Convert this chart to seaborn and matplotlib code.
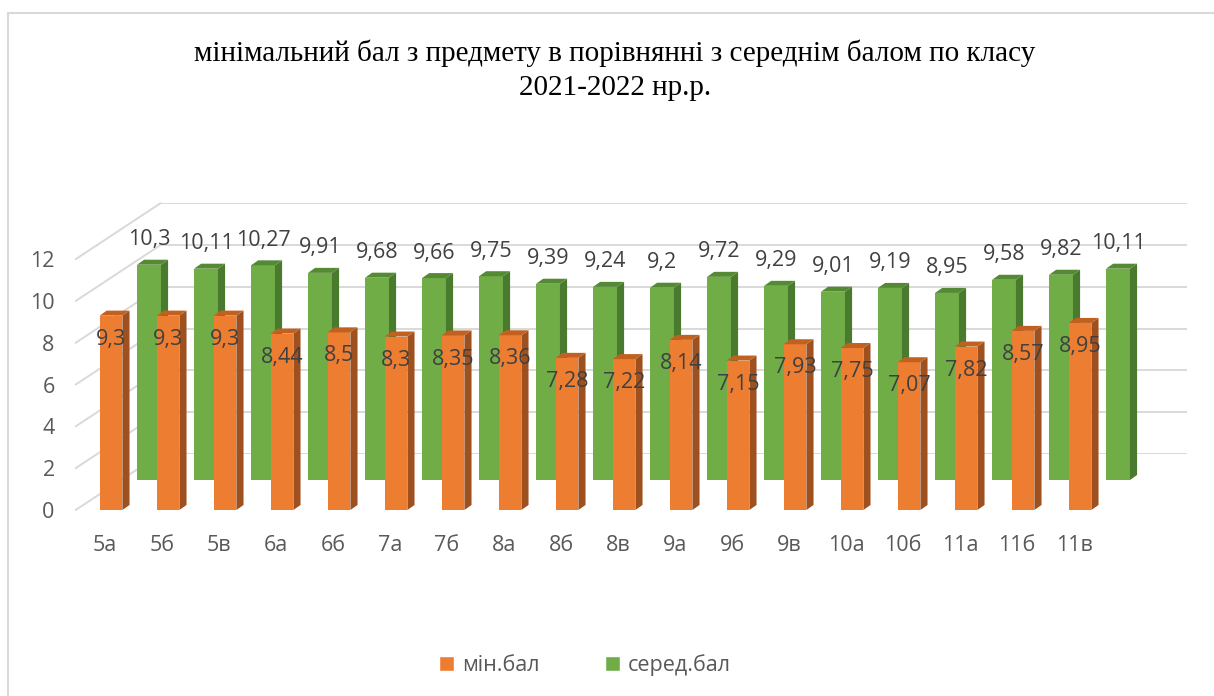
import matplotlib
matplotlib.use('Agg')
import matplotlib.pyplot as plt
from matplotlib.patches import Polygon, Patch, Rectangle, ConnectionPatch
from matplotlib.transforms import ScaledTranslation
import seaborn as sns

# data
classes = ['5а', '5б', '5в', '6а', '6б', '7а', '7б', '8а', '8б', '8в',
           '9а', '9б', '9в', '10а', '10б', '11а', '11б', '11в']
min_scores = [9.3, 9.3, 9.3, 8.44, 8.5, 8.3, 8.35, 8.36, 7.28, 7.22,
              8.14, 7.15, 7.93, 7.75, 7.07, 7.82, 8.57, 8.95]
avg_scores = [10.3, 10.11, 10.27, 9.91, 9.68, 9.66, 9.75, 9.39, 9.24, 9.2,
              9.72, 9.29, 9.01, 9.19, 8.95, 9.58, 9.82, 10.11]
series_names = ['мін.бал', 'серед.бал']
y_ticks = [0, 2, 4, 6, 8, 10, 12]

ORANGE, ORANGE_SIDE, ORANGE_TOP = '#ED7D31', '#9E501E', '#C2611F'
GREEN, GREEN_SIDE, GREEN_TOP = '#70AD47', '#4A7A2E', '#558A35'
GRID = '#d9d9d9'
TXT = '#595959'
LBL = '#404040'
FS = 15.5

sns.set_theme(style='white')
plt.rcParams['font.family'] = ['Open Sans', 'DejaVu Sans']

W, H = 1214, 696
fig = plt.figure(figsize=(W / 100, H / 100), dpi=100)
fig.patch.set_facecolor('white')

# geometry of the fake 3d box (pixels)
left, base, width, height = 82.5, 510, 1026, 12 * 20.9


def make_axes(dx, dy):
    ax = fig.add_axes([(left + dx) / W, (H - base + dy) / H, width / W, height / H])
    ax.patch.set_visible(False)
    for s in ax.spines.values():
        s.set_visible(False)
    return ax


ax_back = make_axes(78, 56)
ax_avg = make_axes(38, 30)
ax_min = make_axes(0, 0)

# back wall with gridlines
ax_back.set_xlim(-0.5, len(classes) - 0.5)
ax_back.set_ylim(0, 12)
ax_back.set_yticks(y_ticks)
ax_back.set_xticks([])
ax_back.tick_params(left=False, labelleft=False)
ax_back.grid(axis='y', color=GRID, lw=1.4)
ax_back.grid(axis='x', visible=False)


def add_depth(ax, side_col, top_col, dx=0.125, dy=0.24):
    for p in list(ax.patches):
        x0, w, h = p.get_x(), p.get_width(), p.get_height()
        ax.add_patch(Polygon([(x0 + w, 0), (x0 + w + dx, dy), (x0 + w + dx, h + dy), (x0 + w, h)],
                             closed=True, fc=side_col, ec='none', clip_on=False))
        ax.add_patch(Polygon([(x0, h), (x0 + dx, h + dy), (x0 + w + dx, h + dy), (x0 + w, h)],
                             closed=True, fc=top_col, ec='none', clip_on=False))


def fmt(v):
    return f'{v:g}'.replace('.', ',')


# middle row: average score
sns.barplot(x=classes, y=avg_scores, color=GREEN, saturation=1, width=0.42,
            linewidth=0, ax=ax_avg)
add_depth(ax_avg, GREEN_SIDE, GREEN_TOP)
ax_avg.set_xlim(-0.5, len(classes) - 0.5)
ax_avg.set_ylim(0, 12)
ax_avg.set_xticks([])
ax_avg.set_yticks([])
ax_avg.set_xlabel('')
for i, v in enumerate(avg_scores):
    ax_avg.annotate(fmt(v), (i, v), xytext=(0, 18), textcoords='offset points',
                    ha='center', va='center', fontsize=FS, color=LBL, annotation_clip=False)

# front row: minimal score
sns.barplot(x=classes, y=min_scores, color=ORANGE, saturation=1, width=0.4,
            linewidth=0, ax=ax_min)
add_depth(ax_min, ORANGE_SIDE, ORANGE_TOP)
ax_min.set_xlim(-0.5, len(classes) - 0.5)
ax_min.set_ylim(0, 12)
ax_min.set_yticks(y_ticks)
ax_min.set_xlabel('')
ax_min.tick_params(axis='y', length=0, pad=20, labelsize=FS, labelcolor=TXT)
ax_min.tick_params(axis='x', length=0, pad=18, labelsize=FS, labelcolor=TXT)
for lab in ax_min.get_xticklabels():
    lab.set_transform(lab.get_transform() + ScaledTranslation(-6 / 100, 0, fig.dpi_scale_trans))
for i, v in enumerate(min_scores):
    ax_min.annotate(fmt(v), (i, v), xytext=(0, -17), textcoords='offset points',
                    ha='center', va='center', fontsize=FS, color=LBL, annotation_clip=False)

# slanted side-wall gridlines, kept behind the bars
for v in y_ticks:
    con = ConnectionPatch(xyA=(-0.62, v), coordsA=ax_min.transData,
                          xyB=(-0.5, v), coordsB=ax_back.transData,
                          color=GRID, lw=1.4, zorder=-1)
    fig.add_artist(con)

fig.text(615 / W, 1 - 70 / H,
         'мінімальний бал з предмету в порівнянні з середнім балом по класу\n2021-2022 нр.р.',
         ha='center', va='center', fontsize=21, family='Liberation Serif',
         color='black', linespacing=1.4)

handles = [Patch(facecolor=ORANGE), Patch(facecolor=GREEN)]
fig.legend(handles, series_names, loc='center', bbox_to_anchor=(585 / W, 1 - 665 / H),
           ncol=2, frameon=False, fontsize=FS, labelcolor=TXT,
           handlelength=0.7, handleheight=0.7, handletextpad=0.4, columnspacing=3.0)

fig.add_artist(Rectangle((8 / W, -0.05), 1.0, 1 - 13 / H + 0.05, transform=fig.transFigure,
                         fill=False, ec=GRID, lw=1.5))

fig.savefig('out.png', dpi=100)
